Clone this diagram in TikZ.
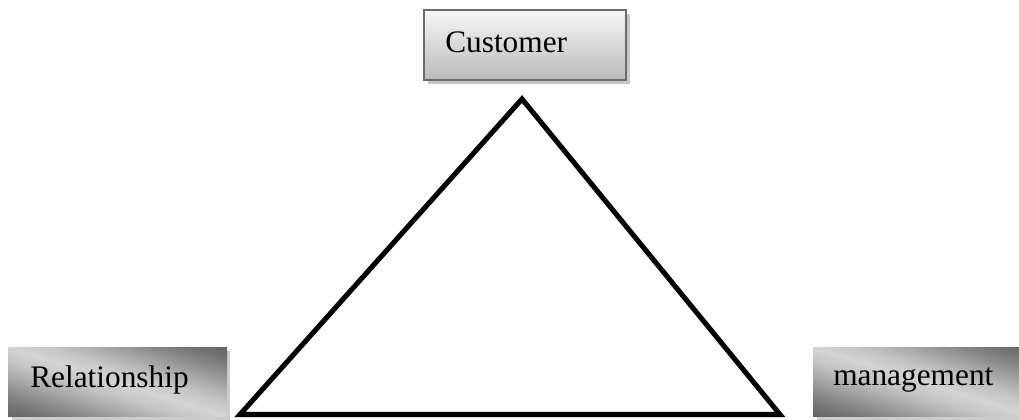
\documentclass[tikz,border=0pt]{standalone}
\usepackage{fontspec}
\setmainfont{Liberation Serif}
\usetikzlibrary{shadows}
\pgfdeclareverticalshading{sidegrad}{100bp}{color(0bp)=(black!61); color(25bp)=(black!61); color(30bp)=(black!54); color(35bp)=(black!44); color(40bp)=(black!33); color(45bp)=(black!23); color(50bp)=(black!17); color(55bp)=(black!23); color(60bp)=(black!33); color(65bp)=(black!44); color(70bp)=(black!54); color(75bp)=(black!61); color(100bp)=(black!61)}
\begin{document}
\begin{tikzpicture}[x=0.75pt,y=-0.75pt,
  topbox/.style={draw=black!58,line width=1.6pt,top color=black!3,bottom color=black!27,
    minimum width=151.5pt,minimum height=52.5pt,inner sep=0pt,
    drop shadow={shadow xshift=3pt,shadow yshift=-3pt,fill=black!22,opacity=1}},
  sidebox/.style={minimum width=164pt,minimum height=52pt,inner sep=0pt,
    drop shadow={shadow xshift=2.5pt,shadow yshift=-2.5pt,fill=black!20,opacity=1},fill=black!20},
  lbl/.style={font=\fontsize{23.5}{26}\selectfont},
  tri/.style={line width=3.8pt,miter limit=10}]
\useasboundingbox (0,0) rectangle (1019,420);
\node[topbox,anchor=north west] (cust) at (423,9) {};
\node[lbl,anchor=west,inner sep=0pt] (custt) at (445,42) {Customer};
% side boxes
\node[sidebox,anchor=north west] (rel) at (8,347) {};
\node[sidebox,anchor=north west] (man) at (813,347) {};
\foreach \b in {rel,man}{
  \begin{scope}
    \clip (\b.north west) rectangle (\b.south east);
    \begin{scope}[transform canvas={rotate around={-17.6:(\b.center)}}]
      \shade[shading=sidegrad] ([shift={(-170,-67)}]\b.center) rectangle ([shift={(170,67)}]\b.center);
    \end{scope}
  \end{scope}
}
\node[lbl,anchor=west,inner sep=0pt] (relt) at (30,380) {Relationship};
\node[lbl,anchor=west,inner sep=0pt] (mant) at (833,380) {management};
\coordinate (apex) at (522,99);
\coordinate (bl) at (240,414.5);
\coordinate (br) at (780,414.5);
\draw[tri] (apex) -- (br) -- (bl) -- cycle;
\end{tikzpicture}
\end{document}
